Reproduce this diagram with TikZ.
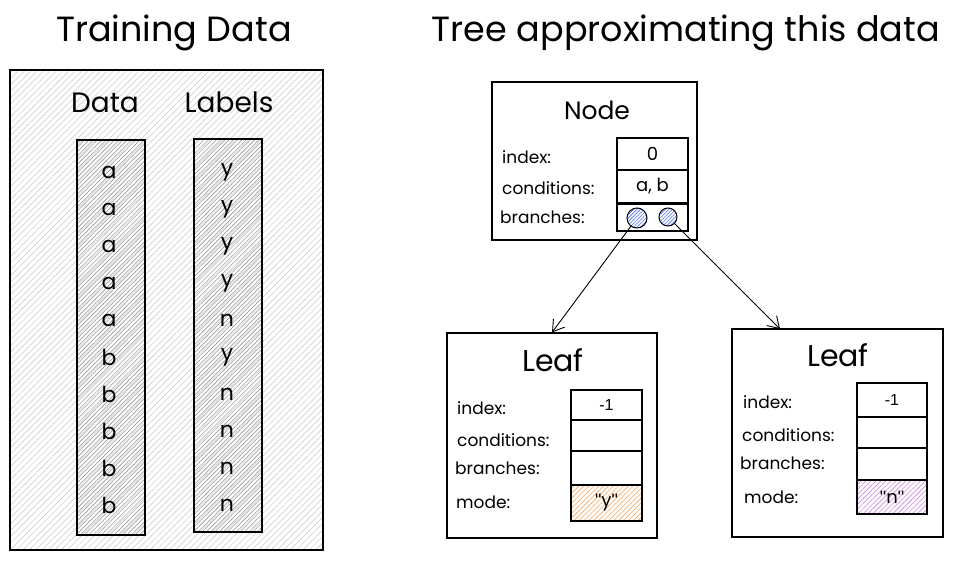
\documentclass[tikz,border=0pt]{standalone}
\usepackage{fontspec}
\setmainfont{Poppins}
\newfontfamily\numfont{Liberation Sans}
\usetikzlibrary{patterns.meta,arrows.meta}
\definecolor{hatchgray}{RGB}{200,200,200}
\definecolor{colgray}{RGB}{150,150,150}
\definecolor{hblue}{RGB}{76,110,245}
\definecolor{horange}{RGB}{253,126,20}
\definecolor{hpurple}{RGB}{190,75,219}
\newcommand{\qq}{{\numfont\char34}}
\tikzset{
  box/.style={draw, line width=1.1pt, rectangle, inner sep=0pt},
  bigbox/.style={box, pattern={Lines[angle=45,distance=4.5pt,line width=0.5pt]}, pattern color=hatchgray},
  colbox/.style={box, pattern={Lines[angle=45,distance=3pt,line width=0.5pt]}, pattern color=colgray},
  cell/.style={box, fill=white, minimum width=71pt},
  ball/.style={draw, line width=1pt, circle, inner sep=0pt, pattern={Lines[angle=45,distance=2.5pt,line width=0.6pt]}, pattern color=hblue},
  title/.style={font=\fontsize{35}{40}\selectfont},
  head/.style={font=\fontsize{28}{32}\selectfont},
  row/.style={font=\fontsize{22}{24}\selectfont},
  lab/.style={font=\fontsize{17}{20}\selectfont, anchor=west, inner sep=0pt},
  val/.style={font=\fontsize{18}{20}\selectfont},
  arr/.style={line width=0.9pt, -{Straight Barb[length=11pt,width=14pt,line width=0.9pt]}}
}
\begin{document}
\begin{tikzpicture}[x=1pt,y=-1pt]
\useasboundingbox (0,0) rectangle (961,560);
\fill[white] (0,0) rectangle (961,560);

% left side
\node[title] (t1) at (174,33) {Training Data};
\node[bigbox, minimum width=313pt, minimum height=480pt] (big) at (166.5,310) {};
\node[head] (hdata) at (105,103) {Data};
\node[head] (hlab) at (229,102) {Labels};
\node[colbox, minimum width=68pt, minimum height=395pt] (cdata) at (111,337.5) {};
\node[colbox, minimum width=68pt, minimum height=393pt] (clab) at (228,335.5) {};
\foreach \d/\l [count=\i from 0] in {a/y,a/y,a/y,a/y,a/n,b/y,b/n,b/n,b/n,b/n}{
  \node[row] (d\i) at (109,{172+37*\i}) {\d};
  \node[row] (l\i) at (227,{172+37*\i}) {\l};
}

% right side
\node[title] (t2) at (686,33) {Tree approximating this data};

% Node box
\node[box, minimum width=205pt, minimum height=158pt] (nb) at (594.5,161) {};
\node[head, font=\fontsize{25}{30}\selectfont] (ntitle) at (597,110) {Node};
\node[lab] (ni) at (502,157) {index:};
\node[lab] (nc) at (502,188) {conditions:};
\node[lab] (nbr) at (500,217) {branches:};
\node[cell, minimum height=32pt] (nci) at (652.5,154) {};
\node[val] at (nci) {0};
\node[cell, minimum height=33pt] (ncc) at (652.5,186.5) {};
\node[val] at (ncc) {a, b};
\node[cell, minimum height=27pt] (ncb) at (652.5,217.5) {};
\node[ball, minimum size=20pt] (c1) at (637,218) {};
\node[ball, minimum size=18pt] (c2) at (668,217) {};

% Left leaf
\node[box, minimum width=210pt, minimum height=205pt] (lf1) at (552,435.5) {};
\node[head, font=\fontsize{30}{34}\selectfont] (lf1t) at (553,360) {Leaf};
\node[lab] (lf1i) at (457,408) {index:};
\node[lab] (lf1c) at (457,440) {conditions:};
\node[lab] (lf1b) at (455,468) {branches:};
\node[lab] (lf1m) at (456,502) {mode:};
\node[cell, minimum height=30pt] (lf1ci) at (606.5,405) {};
\node[val, font=\numfont\fontsize{16}{18}\selectfont] at (lf1ci) {-1};
\node[cell, minimum height=31pt] (lf1cc) at (606.5,435.5) {};
\node[cell, minimum height=34pt] (lf1cb) at (606.5,468) {};
\node[box, minimum width=71pt, minimum height=36pt, pattern={Lines[angle=45,distance=3.5pt,line width=0.6pt]}, pattern color=horange!70] (lf1cm) at (606.5,503) {};
\node[val] at (lf1cm) {\qq y\qq};

% Right leaf
\node[box, minimum width=211pt, minimum height=208pt] (lf2) at (837.5,433) {};
\node[head, font=\fontsize{30}{34}\selectfont] (lf2t) at (838,355) {Leaf};
\node[lab] (lf2i) at (743,402) {index:};
\node[lab] (lf2c) at (742,435) {conditions:};
\node[lab] (lf2b) at (740,463) {branches:};
\node[lab] (lf2m) at (744,497) {mode:};
\node[cell, minimum width=70pt, minimum height=34pt] (lf2ci) at (892,400) {};
\node[val, font=\numfont\fontsize{16}{18}\selectfont] at (lf2ci) {-1};
\node[cell, minimum width=70pt, minimum height=31pt] (lf2cc) at (892,432.5) {};
\node[cell, minimum width=70pt, minimum height=32pt] (lf2cb) at (892,464) {};
\node[box, minimum width=70pt, minimum height=34pt, pattern={Lines[angle=45,distance=3.5pt,line width=0.6pt]}, pattern color=hpurple!70] (lf2cm) at (892,497) {};
\node[val] at (lf2cm) {\qq n\qq};

% arrows
\coordinate (e2) at (780,329);
\draw[arr] (c1) -- (lf1.north);
\draw[arr] (c2) -- (e2);
\end{tikzpicture}
\end{document}
